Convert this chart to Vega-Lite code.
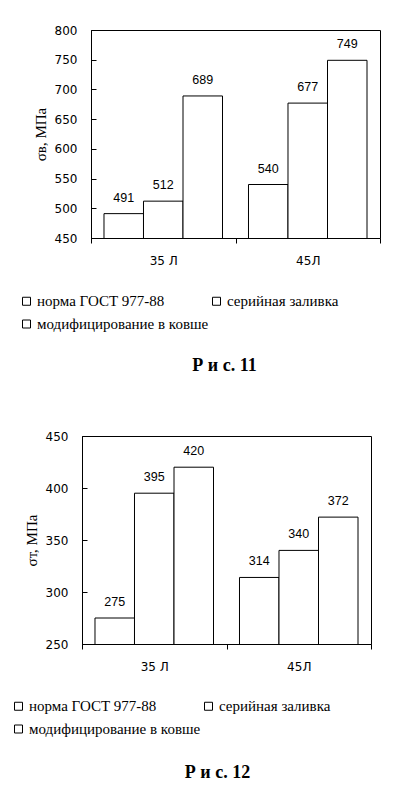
{
  "$schema": "https://vega.github.io/schema/vega-lite/v6.json",
  "padding": {"left": 9, "top": 23, "right": 5, "bottom": 5},
  "autosize": {"type": "pad"},
  "background": "white",
  "spacing": 54,
  "datasets": {
    "fig11": [
      {"grade": "35 Л", "series": "норма ГОСТ 977-88", "value": 491},
      {"grade": "35 Л", "series": "серийная заливка", "value": 512},
      {"grade": "35 Л", "series": "модифицирование в ковше", "value": 689},
      {"grade": "45Л", "series": "норма ГОСТ 977-88", "value": 540},
      {"grade": "45Л", "series": "серийная заливка", "value": 677},
      {"grade": "45Л", "series": "модифицирование в ковше", "value": 749}
    ],
    "fig12": [
      {"grade": "35 Л", "series": "норма ГОСТ 977-88", "value": 275},
      {"grade": "35 Л", "series": "серийная заливка", "value": 395},
      {"grade": "35 Л", "series": "модифицирование в ковше", "value": 420},
      {"grade": "45Л", "series": "норма ГОСТ 977-88", "value": 314},
      {"grade": "45Л", "series": "серийная заливка", "value": 340},
      {"grade": "45Л", "series": "модифицирование в ковше", "value": 372}
    ],
    "empty": []
  },
  "vconcat": [
    {
      "spacing": 0,
      "hconcat": [
        {"width": 9, "height": 1, "data": {"name": "empty"}, "mark": "point", "encoding": {}, "view": {"stroke": null}},
        {
          "width": 289,
          "height": 208,
          "data": {"name": "fig11"},
          "title": {"text": "Р и с. 11", "orient": "bottom", "anchor": "middle", "frame": "group", "dx": -11, "offset": 24},
          "encoding": {
            "x": {"field": "grade", "type": "nominal", "sort": ["35 Л", "45Л"],
                  "scale": {"paddingInner": 0, "paddingOuter": 0},
                  "axis": {"title": null, "labelAngle": 0, "tickBand": "extent", "tickSize": 5, "labelPadding": 12}},
            "xOffset": {"field": "series", "type": "nominal",
                        "sort": ["норма ГОСТ 977-88", "серийная заливка", "модифицирование в ковше"],
                        "scale": {"paddingInner": 0, "paddingOuter": 0.329}},
            "y": {"field": "value", "type": "quantitative",
                  "scale": {"domain": [450, 800], "zero": false, "nice": false},
                  "axis": {"title": "σв, МПа", "values": [450, 500, 550, 600, 650, 700, 750, 800], "tickSize": -5, "labelPadding": 19, "titlePadding": 5.5}}
          },
          "layer": [
            {
              "mark": {"type": "bar", "stroke": "black", "strokeWidth": 1, "clip": true},
              "encoding": {
                "fill": {"field": "series", "type": "nominal",
                         "scale": {"domain": ["норма ГОСТ 977-88", "серийная заливка", "модифицирование в ковше"], "range": ["white", "white", "white"]},
                         "legend": {"title": null, "orient": "none", "direction": "horizontal", "legendX": -72, "legendY": 263.5, "padding": 0, "columns": 2, "columnPadding": 0}}
              }
            },
            {
              "mark": {"type": "text", "baseline": "middle", "dy": -16, "font": "Liberation Sans", "fontSize": 12.5, "color": "black"},
              "encoding": {"text": {"field": "value", "type": "quantitative"}}
            }
          ]
        }
      ],
      "resolve": {"scale": {"fill": "independent", "y": "independent", "x": "independent", "xOffset": "independent"}}
    },
    {
      "spacing": 0,
      "hconcat": [
        {"width": 1, "height": 1, "data": {"name": "empty"}, "mark": "point", "encoding": {}, "view": {"stroke": null}},
        {
          "width": 289,
          "height": 208,
          "data": {"name": "fig12"},
          "title": {"text": "Р и с. 12", "orient": "bottom", "anchor": "middle", "frame": "group", "dx": -9, "offset": 26},
          "encoding": {
            "x": {"field": "grade", "type": "nominal", "sort": ["35 Л", "45Л"],
                  "scale": {"paddingInner": 0, "paddingOuter": 0},
                  "axis": {"title": null, "labelAngle": 0, "tickBand": "extent", "tickSize": 5, "labelPadding": 12}},
            "xOffset": {"field": "series", "type": "nominal",
                        "sort": ["норма ГОСТ 977-88", "серийная заливка", "модифицирование в ковше"],
                        "scale": {"paddingInner": 0, "paddingOuter": 0.329}},
            "y": {"field": "value", "type": "quantitative",
                  "scale": {"domain": [250, 450], "zero": false, "nice": false},
                  "axis": {"title": "σт, МПа", "values": [250, 300, 350, 400, 450], "tickSize": -5, "labelPadding": 19, "titlePadding": 5.5}}
          },
          "layer": [
            {
              "mark": {"type": "bar", "stroke": "black", "strokeWidth": 1, "clip": true},
              "encoding": {
                "fill": {"field": "series", "type": "nominal",
                         "scale": {"domain": ["норма ГОСТ 977-88", "серийная заливка", "модифицирование в ковше"], "range": ["white", "white", "white"]},
                         "legend": {"title": null, "orient": "none", "direction": "horizontal", "legendX": -71, "legendY": 262.5, "padding": 0, "columns": 2, "columnPadding": 0}}
              }
            },
            {
              "mark": {"type": "text", "baseline": "middle", "dy": -16, "font": "Liberation Sans", "fontSize": 12.5, "color": "black"},
              "encoding": {"text": {"field": "value", "type": "quantitative"}}
            }
          ]
        }
      ],
      "resolve": {"scale": {"fill": "independent", "y": "independent", "x": "independent", "xOffset": "independent"}}
    }
  ],
  "resolve": {"scale": {"fill": "independent", "y": "independent", "x": "independent", "xOffset": "independent"}},
  "config": {
    "view": {"stroke": "black", "strokeWidth": 1},
    "axis": {
      "grid": false, "domainColor": "black", "tickColor": "black",
      "labelColor": "black", "titleColor": "black",
      "labelFont": "DejaVu Sans", "labelFontSize": 12,
      "titleFont": "Liberation Serif", "titleFontSize": 15, "titleFontWeight": "normal"
    },
    "legend": {
      "symbolType": "square", "symbolSize": 64, "symbolStrokeColor": "black", "symbolStrokeWidth": 1, "symbolFillColor": "white",
      "labelFont": "Liberation Serif", "labelFontSize": 15, "labelColor": "black", "labelLimit": 300,
      "labelOffset": 3, "rowPadding": 7
    },
    "title": {"font": "Liberation Serif", "fontSize": 18, "fontWeight": "bold", "color": "black"}
  }
}
